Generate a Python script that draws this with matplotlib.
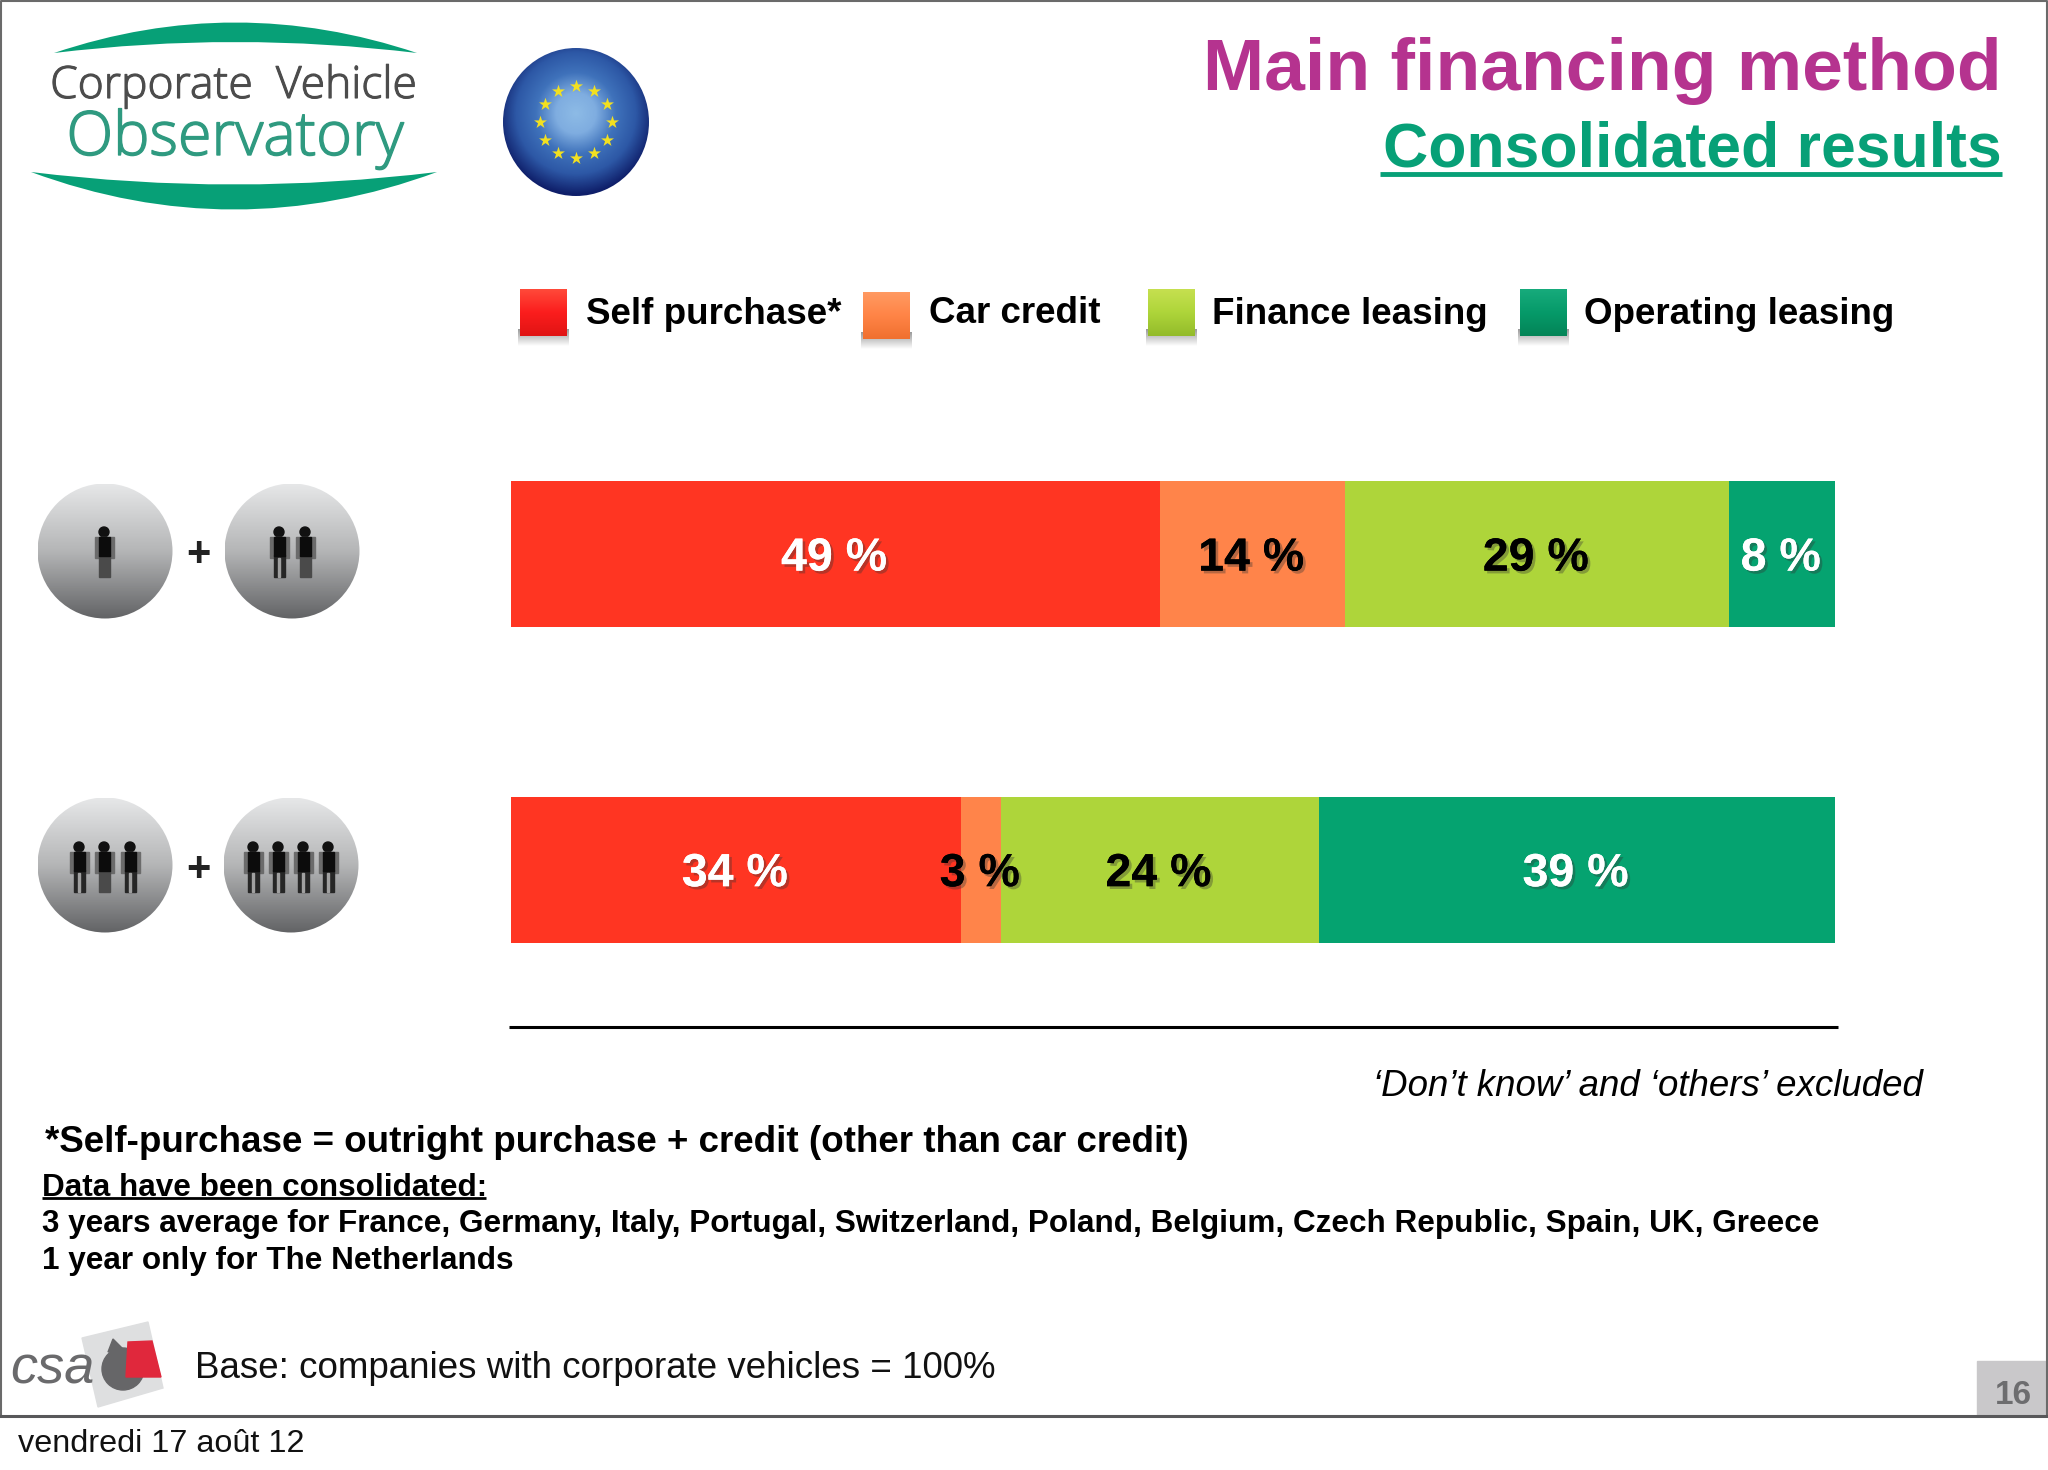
import matplotlib
matplotlib.use('Agg')
import matplotlib.pyplot as plt
import matplotlib.patheffects as pe
import numpy as np
from matplotlib.patches import Circle, Ellipse, PathPatch, Polygon, Rectangle
from matplotlib.path import Path
from matplotlib.colors import LinearSegmentedColormap

plt.rcParams['font.family'] = ['Liberation Sans', 'DejaVu Sans']

# data
series = ['Self purchase*', 'Car credit', 'Finance leasing', 'Operating leasing']
small_companies = [49, 14, 29, 8]
large_companies = [34, 3, 24, 39]
bar_colors = ['#ff3522', '#ff844a', '#aed53a', '#05a370']
label_colors = ['white', 'black', 'black', 'white']
countries_3y = ('3 years average for France, Germany, Italy, Portugal, Switzerland, '
                'Poland, Belgium, Czech Republic, Spain, UK, Greece')

W, H = 2048, 1470
fig = plt.figure(figsize=(W / 100, H / 100), dpi=100, facecolor='white')
bg = fig.add_axes([0, 0, 1, 1])
bg.axis('off')


def gradient_patch(patch, colors, radial=False):
    # paint a gradient and clip it to the patch
    bbox = patch.get_path().get_extents(patch.get_patch_transform())
    cmap = LinearSegmentedColormap.from_list('g', colors)
    if radial:
        yy, xx = np.mgrid[-1:1:200j, -1:1:200j]
        img = np.clip(np.hypot(xx, yy + 0.12) / 1.1, 0, 1)
    else:
        img = np.linspace(0, 1, 200).reshape(-1, 1)
    im = bg.imshow(img, cmap=cmap, vmin=0, vmax=1, aspect='auto', zorder=patch.get_zorder(),
                   extent=(bbox.x0, bbox.x1, bbox.y1, bbox.y0))
    bg.add_patch(patch)
    patch.set_facecolor('none')
    patch.set_edgecolor('none')
    im.set_clip_path(patch)


def person(x, top, feet, dress=False):
    h = feet - top
    r = 0.1 * h
    bg.add_patch(Circle((x, top + r), r, color='#111111', zorder=4))
    bg.add_patch(Rectangle((x - 0.19 * h, top + 0.2 * h), 0.38 * h, 0.42 * h, color='#6b6b6b', zorder=4))
    bg.add_patch(Rectangle((x - 0.11 * h, top + 0.2 * h), 0.22 * h, 0.38 * h, color='#0c0c0c', zorder=5))
    bg.add_patch(Rectangle((x - 0.11 * h, top + 0.55 * h), 0.22 * h, 0.45 * h,
                           color='#4a4a4a' if dress else '#262626', zorder=4))
    if not dress:
        bg.add_patch(Rectangle((x - 0.025 * h, top + 0.62 * h), 0.05 * h, 0.38 * h, color='#a0a0a0', zorder=5))


# size icons
circle_grad = ['#e6e7e8', '#b4b5b6', '#626365']
for cx, cy in [(105, 551), (292, 551), (105, 865), (291, 865)]:
    gradient_patch(Circle((cx, cy), 67.5, zorder=2), circle_grad)
icon_rows = [(552, 527, 577, [104, 279, 305], [104, 305]),
             (867, 842, 892, [79, 104, 130, 253, 278, 303, 328], [104])]
for py, top, feet, xs, dressed in icon_rows:
    for x in xs:
        person(x, top, feet, x in dressed)
    bg.text(198, py + 3, '+', ha='center', va='center', fontsize=30, fontweight='bold', color='#222222', zorder=4)

# corporate vehicle observatory logo
green = '#07a077'
top_arc = Path([(54, 53), (235, -8), (417, 53), (235, 31), (54, 53)],
               [Path.MOVETO, Path.CURVE3, Path.CURVE3, Path.CURVE3, Path.CURVE3])
low_arc = Path([(31, 172), (234, 247), (437, 172), (234, 197), (31, 172)],
               [Path.MOVETO, Path.CURVE3, Path.CURVE3, Path.CURVE3, Path.CURVE3])
bg.add_patch(PathPatch(top_arc, fc=green, ec='none'))
bg.add_patch(PathPatch(low_arc, fc=green, ec='none'))
bg.text(234, 98, 'Corporate  Vehicle', ha='center', va='baseline', fontsize=32, family='Open Sans',
        fontweight='light', color='#4c4c4c',
        path_effects=[pe.withStroke(linewidth=0.8, foreground='#4c4c4c')])
bg.text(235, 155, 'Observatory', ha='center', va='baseline', fontsize=44, family='Open Sans',
        fontweight='light', color='#2f9a80',
        path_effects=[pe.withStroke(linewidth=1.0, foreground='#2f9a80')])

# EU disc
gradient_patch(Ellipse((576, 122), 146, 148, zorder=2),
               ['#8dbbe6', '#7fade0', '#3f72bb', '#2d58a6', '#0f1f6a'], radial=True)
star_angles = np.arange(0, 360, 30)
bg.scatter(576 + 36 * np.cos(np.radians(star_angles)), 122 + 36 * np.sin(np.radians(star_angles)),
           marker='*', s=95, color='#f2e020', linewidths=0, zorder=4)

# titles
bg.text(2002, 71, 'Main financing method', ha='right', va='center', fontsize=52.8,
        fontweight='bold', color='#b5338f')
bg.text(2002, 150, 'Consolidated results', ha='right', va='center', fontsize=45,
        fontweight='bold', color=green)
bg.plot([1380, 2002], [174, 174], color=green, lw=3.5, solid_capstyle='butt')

# legend
legend_boxes = [(520, 289), (863, 292), (1148, 289), (1520, 289)]
legend_text = [(586, 314), (929, 313), (1212, 314), (1584, 314)]
legend_grad = [['#ff4a3a', '#fb1d1d', '#e01414'], ['#ff9a62', '#ff8446', '#f0702f'],
               ['#c6e050', '#aed53a', '#93bb2a'], ['#17ab7c', '#069a69', '#048457']]
for (bx, by), (tx, ty), name, grad in zip(legend_boxes, legend_text, series, legend_grad):
    gradient_patch(Rectangle((bx - 2, by + 40), 51, 17, zorder=1), ['#9a9a9a', '#ffffff'])
    gradient_patch(Rectangle((bx, by), 47, 47, zorder=2), grad)
    bg.text(tx, ty, name, ha='left', va='center', fontsize=26.5, fontweight='bold', color='black')

# rule and footnotes
bg.plot([509, 1838], [1027, 1027], color='black', lw=2.2, solid_capstyle='butt')
bg.text(1923, 1087, '‘Don’t know’ and ‘others’ excluded', ha='right', va='center',
        fontsize=26.4, style='italic', color='black')
bg.text(45, 1143, '*Self-purchase = outright purchase + credit (other than car credit)',
        ha='left', va='center', fontsize=26.45, fontweight='bold', color='black')
bg.text(42, 1188, 'Data have been consolidated:', ha='left', va='center', fontsize=22.65,
        fontweight='bold', color='black')
bg.plot([42, 486], [1198, 1198], color='black', lw=2, solid_capstyle='butt')
bg.text(42, 1224, countries_3y, ha='left', va='center', fontsize=22.65, fontweight='bold', color='black')
bg.text(42, 1261, '1 year only for The Netherlands', ha='left', va='center', fontsize=22.65,
        fontweight='bold', color='black')
bg.text(195, 1369, 'Base: companies with corporate vehicles = 100%', ha='left', va='center',
        fontsize=26.5, color='#111111')
bg.text(18, 1444, 'vendredi 17 août 12', ha='left', va='center', fontsize=23.3, color='#111111')

# csa logo
bg.add_patch(Polygon([(82, 1338), (148, 1322), (163, 1388), (98, 1407)], color='#dedfe0', zorder=1))
bg.add_patch(Circle((123, 1369), 21, color='#666668', zorder=2))
bg.add_patch(Polygon([(108, 1352), (113, 1339), (124, 1350)], color='#666668', zorder=2))
bg.add_patch(Polygon([(128, 1342), (152, 1341), (161, 1377), (126, 1377)], color='#e0283c', zorder=3))
bg.text(52, 1370, 'csa', ha='center', va='center', fontsize=39, style='italic', color='#6a6a6c', zorder=3)

# frame and page number
bg.add_patch(Rectangle((1977, 1361), 69, 55, color='#c9c8ca', zorder=1))
bg.text(2013, 1396, '16', ha='center', va='center', fontsize=24, fontweight='bold', color='#6d6d6f')
bg.plot([1, 1, 2047, 2047], [1416, 1, 1, 1416], color='#6a6a6a', lw=1.5)
bg.plot([0, 2048], [1416, 1416], color='#58585a', lw=2.2)

bg.set_xlim(0, W)
bg.set_ylim(H, 0)

# stacked bars
ax = fig.add_axes([511 / W, 1 - 943 / H, (1835 - 511) / W, (943 - 481) / H])
ax.patch.set_alpha(0)
ax.axis('off')
ax.set_xlim(0, 100)
ax.set_ylim(1.232, -0.232)
shadow = [pe.withSimplePatchShadow(offset=(2, -2), shadow_rgbFace='#333333', alpha=0.35), pe.Normal()]
for row, values in enumerate([small_companies, large_companies]):
    left = 0
    for val, col, tcol in zip(values, bar_colors, label_colors):
        ax.barh(row, val, left=left, height=0.464, color=col, linewidth=0)
        ax.text(left + val / 2 - 0.1, row + 0.014, f'{val} %', ha='center', va='center', fontsize=33.5,
                fontweight='bold', color=tcol, path_effects=shadow)
        left += val

fig.savefig('out.png', dpi=100)
plt.close(fig)
